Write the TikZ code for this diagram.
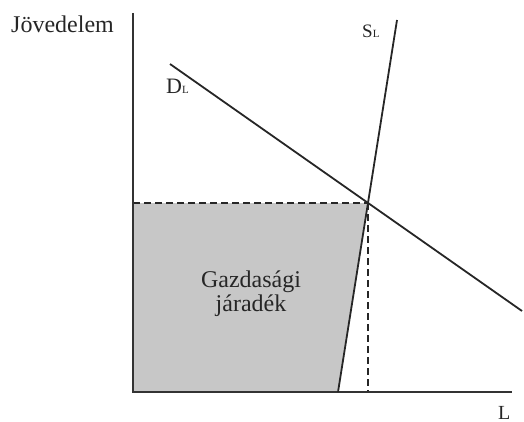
\documentclass[tikz,border=0pt]{standalone}
\usepackage{fontspec}
\setmainfont{Liberation Serif}
\begin{document}
\begin{tikzpicture}[x=1pt,y=-1pt,
  axis/.style={draw=black!80,line width=1.4pt},
  curve/.style={draw=black!85,line width=1.8pt},
  guide/.style={draw=black!85,line width=1.2pt,dash pattern=on 7pt off 4pt},
  lbl/.style={inner sep=0pt,font=\fontsize{24}{27}\selectfont,text=black!85}]
\useasboundingbox (0,0) rectangle (524,422);
% key points
\coordinate (O) at (133,392);
\coordinate (Ytop) at (133,13);
\coordinate (Xend) at (512,392);
\coordinate (E) at (368,203);
\coordinate (Ey) at (133,203);
\coordinate (Ex) at (368,392);
\coordinate (Sbot) at (338,392);
\coordinate (Stop) at (397,20);
\coordinate (Dtop) at (170,64);
\coordinate (Dbot) at (522,311);
% shaded area
\fill[black!22] (Ey) -- (E) -- (Sbot) -- (O) -- cycle;
% guides
\draw[guide] (Ey) -- (E);
\draw[guide] (E) -- (Ex);
% axes
\draw[axis] (Ytop) -- (O) -- (Xend);
% curves
\draw[curve] (Sbot) -- (Stop);
\draw[curve] (Dtop) -- (Dbot);
% labels
\node[lbl,anchor=base west] (ylab) at (11,33) {Jövedelem};
\node[lbl,anchor=base west] (xlab) at (498,419) {\fontsize{20}{22}\selectfont L};
\node[lbl,anchor=base west] (dlab) at (166,94) {\fontsize{22}{24}\selectfont D\fontsize{11}{12}\selectfont L};
\node[lbl,anchor=base west] (slab) at (362,38) {\fontsize{19}{22}\selectfont S\fontsize{11}{12}\selectfont L};
\node[lbl,align=center] (area) at (251,294) {Gazdasági\\[-3pt]járadék};
\end{tikzpicture}
\end{document}
